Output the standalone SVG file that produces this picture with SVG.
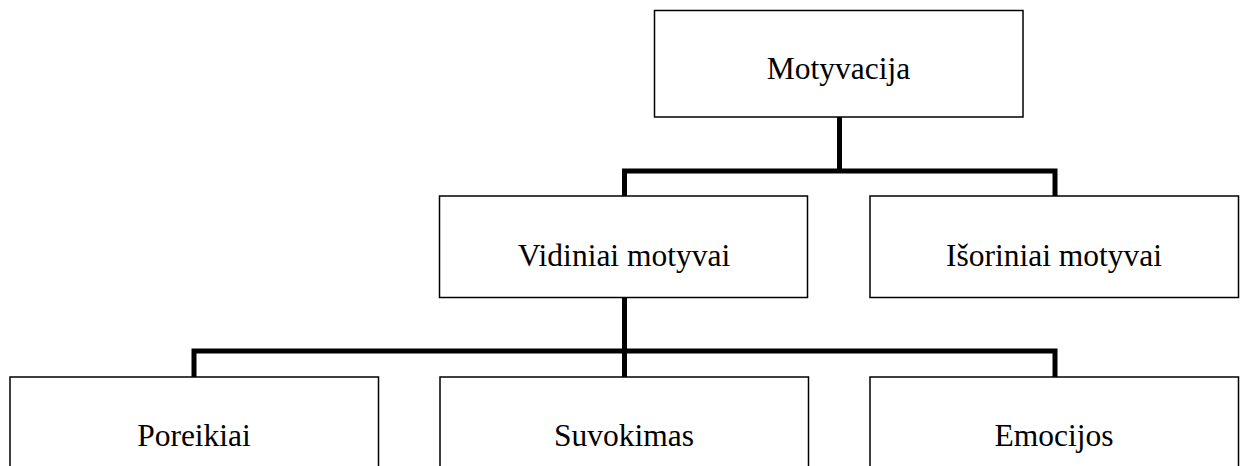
<svg xmlns="http://www.w3.org/2000/svg" width="1242" height="466" viewBox="0 0 1242 466">
<style>
.box{fill:#fff;stroke:#000;stroke-width:1.5}
.lbl{font-family:"Liberation Serif","Times New Roman",serif;font-size:31.5px;fill:#000;text-anchor:middle}
.con{fill:none;stroke:#000;stroke-width:5;stroke-linejoin:miter;stroke-linecap:butt}
</style>
<rect width="1242" height="466" fill="#fff"/>
<g id="connectors">
<path class="con" d="M839.5,117 V171"/>
<path class="con" d="M624.5,196 V171 H1055 V196"/>
<path class="con" d="M624.5,297 V377"/>
<path class="con" d="M194,377 V351 H1055 V377"/>
</g>
<g id="motyvacija">
<rect class="box" x="654.5" y="10.5" width="368.5" height="106.5"/>
<text class="lbl" x="838.5" y="79">Motyvacija</text>
</g>
<g id="vidiniai">
<rect class="box" x="439.5" y="196" width="368" height="101.5"/>
<text class="lbl" x="624" y="266">Vidiniai motyvai</text>
</g>
<g id="isoriniai">
<rect class="box" x="870" y="196" width="368.5" height="101.5"/>
<text class="lbl" x="1054" y="266">Išoriniai motyvai</text>
</g>
<g id="poreikiai">
<rect class="box" x="10" y="377" width="368.5" height="120"/>
<text class="lbl" x="194" y="446">Poreikiai</text>
</g>
<g id="suvokimas">
<rect class="box" x="440" y="377" width="368.5" height="120"/>
<text class="lbl" x="624" y="445.5">Suvokimas</text>
</g>
<g id="emocijos">
<rect class="box" x="870" y="377" width="368.5" height="120"/>
<text class="lbl" x="1054" y="445.5">Emocijos</text>
</g>
</svg>
